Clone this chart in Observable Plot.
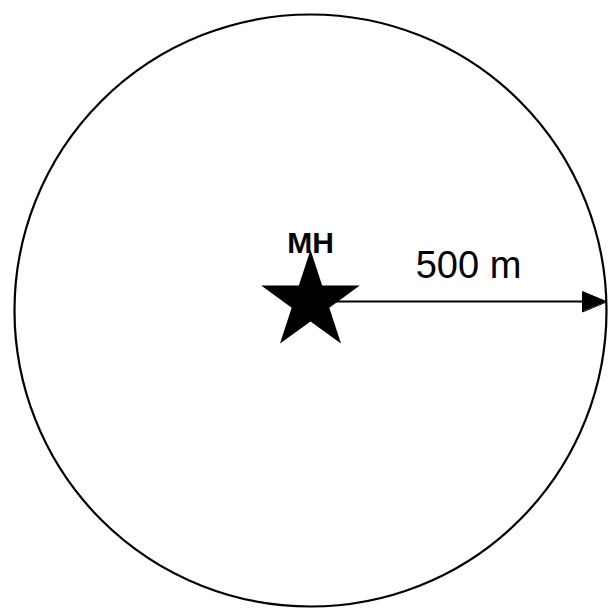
<!DOCTYPE html>
<html>
<head>
<meta charset="utf-8">
<script src="https://cdn.jsdelivr.net/npm/d3@7"></script>
<script src="https://cdn.jsdelivr.net/npm/@observablehq/plot@0.6"></script>
<style>
  html, body { margin: 0; padding: 0; background: #ffffff; }
  #chart { width: 611px; height: 608px; }
</style>
</head>
<body>
<div id="chart"></div>
<script>
// Site (monitoring location) and buffer radius, in metres
const siteNames = ["MH"];
const siteX = [0];
const siteY = [15];
const bufferRadius = [500];
const bufferLabels = ["500 m"];
const centerX = [0];
const centerY = [0];

const sites = siteNames.map((name, i) => ({name, x: siteX[i], y: siteY[i]}));
const buffers = bufferRadius.map((r, i) => ({r, label: bufferLabels[i], cx: centerX[i], cy: centerY[i]}));
const arrows = bufferRadius.map((r, i) => ({x1: siteX[i], y1: siteY[i], x2: siteX[i] + r, y2: siteY[i], label: bufferLabels[i]}));

const headShape = {
  draw(context, l) {
    context.moveTo(0, -l);
    context.lineTo(-10, 0);
    context.lineTo(10, 0);
    context.closePath();
  }
};

const chart = Plot.plot({
  width: 611,
  height: 608,
  margin: 0,
  style: {background: "#ffffff", fontFamily: "'Liberation Sans', Arial, sans-serif", color: "black"},
  x: {domain: [-500, 500], range: [14, 606], axis: null},
  y: {domain: [-500, 500], range: [606, 14], axis: null},
  r: {type: "linear", domain: [0, 500], range: [0, 296]},
  marks: [
    Plot.dot(buffers, {x: d => d.cx, y: d => d.cy, r: d => d.r, stroke: "black", strokeWidth: 2.2, fill: "none"}),
    Plot.link(arrows, {x1: "x1", y1: "y1", x2: d => d.x2 - 20, y2: "y2", stroke: "black", strokeWidth: 2}),
    Plot.vector(arrows, {x: "x2", y: "y2", rotate: 90, length: 24, anchor: "end", shape: headShape, fill: "black", stroke: "black", strokeWidth: 1}),
    Plot.text(arrows, {x: d => (d.x1 + d.x2) / 2, y: "y1", text: "label", dx: 10, dy: -24, lineAnchor: "bottom", fontSize: 38, fill: "black"}),
    Plot.dot(sites, {x: "x", y: "y", symbol: "star", r: 31, fill: "black", stroke: "none"}),
    Plot.text(sites, {x: "x", y: "y", text: "name", dy: -49, lineAnchor: "bottom", fontSize: 30, fontWeight: "bold", fill: "black"})
  ]
});
document.getElementById("chart").appendChild(chart);
</script>
</body>
</html>
